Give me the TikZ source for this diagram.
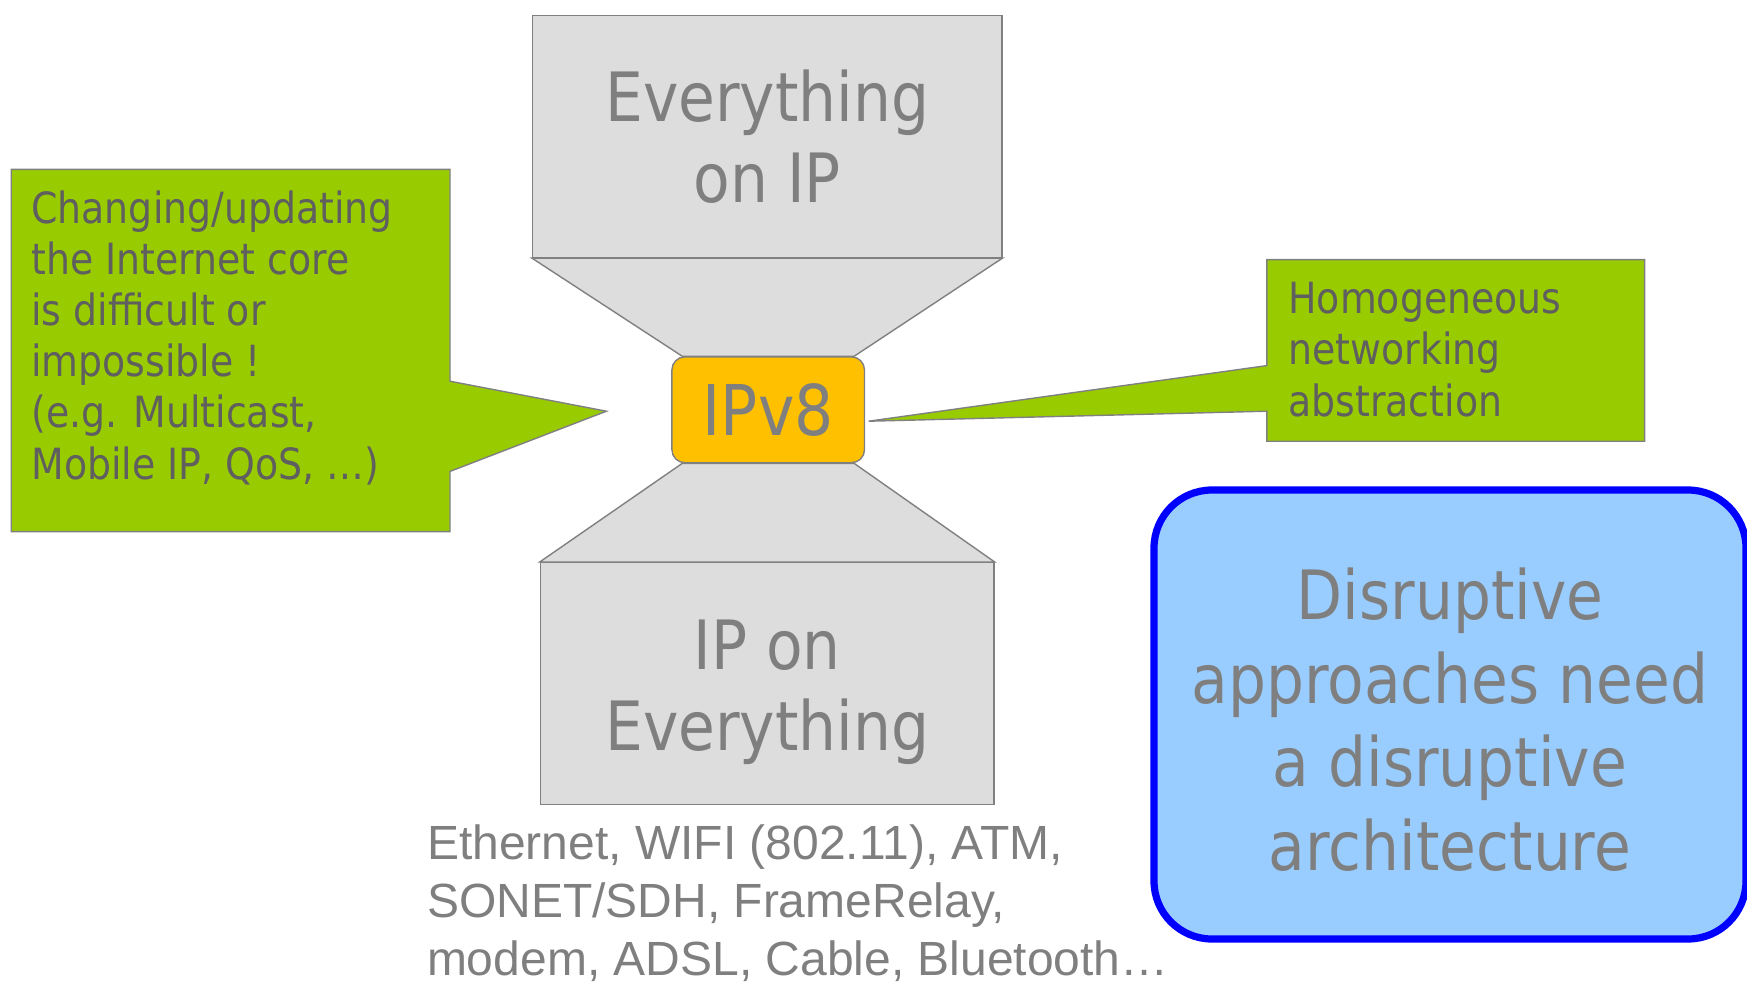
\documentclass[tikz,border=0pt]{standalone}
\usepackage{fontspec}
\setmainfont{DejaVu Sans}
\newfontfamily\tahoma[FakeStretch=0.88]{DejaVu Sans}
\newfontfamily\arial{Liberation Sans}
\usetikzlibrary{calc, backgrounds}
\tikzset{>=latex}
\definecolor{hgrey}{HTML}{DDDDDD}
\definecolor{lgrey}{HTML}{808080}
\definecolor{txtgrey}{HTML}{7F7F7F}
\definecolor{notegreen}{HTML}{99CC00}
\definecolor{notetxt}{HTML}{5F5F5F}
\definecolor{ipgold}{HTML}{FFC000}
\definecolor{skyfill}{HTML}{99CCFF}

\begin{document}
\begin{tikzpicture}[
    x = 1pt, y = -1pt,
    hg/.style = {fill = hgrey, draw = lgrey, line width = 0.7pt},
    note/.style = {fill = notegreen, draw = lgrey, line width = 0.7pt},
    big/.style = {font = \tahoma\fontsize{34}{40.5}\selectfont, text = txtgrey, align = center},
    small/.style = {font = \tahoma\fontsize{21.5}{25.6}\selectfont, text = notetxt, align = left, inner sep = 0pt},
]
\useasboundingbox (0,0) rectangle (873.5,490.5);

% hourglass
\node[hg, big, minimum width = 234.6pt, minimum height = 120.9pt] (topBox) at (383.6,68.25) {Everything\\on IP};
\node[hg, minimum width = 226.8pt, minimum height = 120.9pt] (botBox) at (383.6,341.8) {};
\node[big] (botText) at ($(botBox.center)+(0,4.5)$) {IP on\\Everything};
\node[fill = ipgold, draw = lgrey, line width = 0.7pt, rounded corners = 6.5pt, minimum width = 96.3pt, minimum height = 52.9pt,
      font = \tahoma\fontsize{35}{40}\selectfont, text = txtgrey] (ipv8) at (384.1,204.9) {IPv8};

\begin{scope}[on background layer]
\filldraw[hg] (topBox.south west) -- (topBox.south east) -- ($(ipv8.north east)+(-5.5,0)$) -- ($(ipv8.north west)+(5.5,0)$) -- cycle;
\filldraw[hg] (botBox.north west) -- (botBox.north east) -- ($(ipv8.south east)+(-5.5,0)$) -- ($(ipv8.south west)+(5.5,0)$) -- cycle;
\end{scope}

% callouts
\coordinate (coreTip) at ($(ipv8.west)+(-32.4,0.7)$);
\coordinate (homTip) at ($(ipv8.east)+(1.7,5.7)$);
\node[small, anchor = north west] (coreNote) at (15.5,95) {Changing/updating\\the Internet core\\is difficult or\\impossible !\\(e.g. Multicast,\\Mobile IP, QoS, …)};
\node[small, anchor = north west] (homNote) at (644,141) {Homogeneous\\networking\\abstraction};

\begin{scope}[on background layer]
\filldraw[note] (5.6,84.7) -- (225,84.7) -- (225,190.6) -- (coreTip) -- (225,235.7) -- (225,265.8) -- (5.6,265.8) -- cycle;
\filldraw[note] (633.4,129.8) -- (822.3,129.8) -- (822.3,220.6) -- (633.4,220.6) -- (633.4,205.6) -- (homTip) -- (633.4,182.8) -- cycle;
\end{scope}

\node[draw = blue, fill = skyfill, line width = 3.6pt, rounded corners = 29pt, minimum width = 296pt, minimum height = 224.5pt] (disrupt) at (725,357.25) {};
\node[big, font = \tahoma\fontsize{34}{41.8}\selectfont] (disruptText) at ($(disrupt.center)+(0,2.5)$)
      {Disruptive\\approaches need\\a disruptive\\architecture};

\node[font = \arial\fontsize{24}{29}\selectfont, text = txtgrey, align = left, anchor = north west, inner sep = 0pt] (linkList) at (213.3,412)
      {Ethernet, WIFI (802.11), ATM,\\SONET/SDH, FrameRelay,\\modem, ADSL, Cable, Bluetooth…};

\end{tikzpicture}
\end{document}
